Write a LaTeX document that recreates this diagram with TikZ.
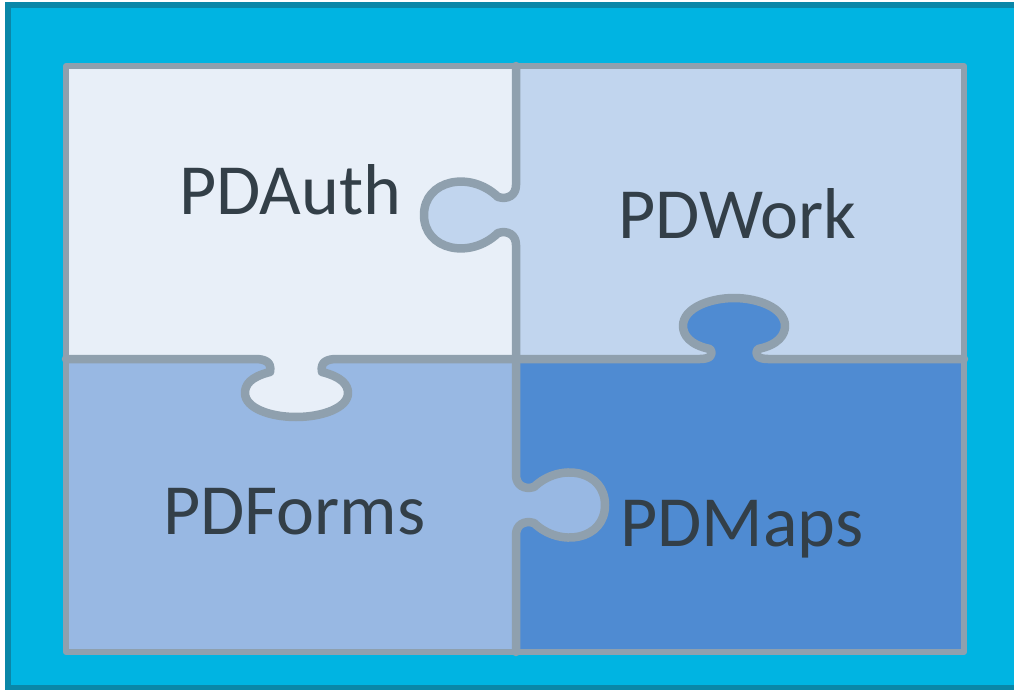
\documentclass[tikz,border=0pt]{standalone}
\usepackage{fontspec}
\setmainfont{Carlito}
\definecolor{bgcyan}{HTML}{00B4E2}
\definecolor{bgborder}{HTML}{0A87A8}
\definecolor{cAuth}{HTML}{E8EFF8}
\definecolor{cWork}{HTML}{C1D5EE}
\definecolor{cForms}{HTML}{98B8E3}
\definecolor{cMaps}{HTML}{4F8BD2}
\definecolor{edge}{HTML}{8FA0AE}
\definecolor{txt}{HTML}{333F48}
\tikzset{
  edgeline/.style={draw=edge, line width=8.5pt, line join=round, line cap=round},
  label/.style={anchor=base west, inner sep=0pt, text=txt, font=\fontsize{72}{86}\selectfont}
}
\begin{document}
\begin{tikzpicture}[x=1pt,y=-1pt]
\useasboundingbox (0,0) rectangle (1014,690);
% background
\fill[white] (0,0) rectangle (1014,690);
\draw[fill=bgcyan, draw=bgborder, line width=6pt] (8,5) rectangle (1030,688);
% piece rectangles
\fill[cAuth]  (66,66) rectangle (516,359);
\fill[cWork]  (516,66) rectangle (964,359);
\fill[cForms] (66,359) rectangle (516,652);
\fill[cMaps]  (516,359) rectangle (964,652);
% knob fills
\fill[cWork] (516,185) .. controls (516,195) and (508,200) .. (498,197)
  .. controls (470,170) and (424,180) .. (424,215)
  .. controls (424,250) and (470,260) .. (498,233)
  .. controls (508,230) and (516,235) .. (516,245) -- cycle;
\fill[cAuth] (255,359) .. controls (265,359) and (272,362) .. (270,372)
  .. controls (250,377) and (245,385) .. (245,393)
  .. controls (245,408) and (270,417) .. (296,417)
  .. controls (322,417) and (348,408) .. (348,393)
  .. controls (348,385) and (342,377) .. (322,372)
  .. controls (320,362) and (327,359) .. (337,359) -- cycle;
\fill[cMaps] (700,359) .. controls (710,359) and (714,355) .. (710,349)
  .. controls (690,345) and (683,335) .. (683,326)
  .. controls (683,308) and (710,298) .. (734,298)
  .. controls (758,298) and (785,308) .. (785,326)
  .. controls (785,335) and (778,345) .. (758,349)
  .. controls (754,355) and (758,359) .. (768,359) -- cycle;
\fill[cForms] (516,475) .. controls (516,485) and (524,490) .. (534,487)
  .. controls (560,462) and (605,470) .. (605,505)
  .. controls (605,540) and (560,548) .. (534,523)
  .. controls (524,520) and (516,525) .. (516,535) -- cycle;
% outline
\draw[edgeline, line width=6pt] (66,66) rectangle (964,652);
% horizontal divider with knobs
\draw[edgeline] (66,359) -- (255,359) .. controls (265,359) and (272,362) .. (270,372)
  .. controls (250,377) and (245,385) .. (245,393)
  .. controls (245,408) and (270,417) .. (296,417)
  .. controls (322,417) and (348,408) .. (348,393)
  .. controls (348,385) and (342,377) .. (322,372)
  .. controls (320,362) and (327,359) .. (337,359)
  -- (700,359) .. controls (710,359) and (714,355) .. (710,349)
  .. controls (690,345) and (683,335) .. (683,326)
  .. controls (683,308) and (710,298) .. (734,298)
  .. controls (758,298) and (785,308) .. (785,326)
  .. controls (785,335) and (778,345) .. (758,349)
  .. controls (754,355) and (758,359) .. (768,359) -- (964,359);
% vertical divider with knobs
\draw[edgeline] (516,66) -- (516,185) .. controls (516,195) and (508,200) .. (498,197)
  .. controls (470,170) and (424,180) .. (424,215)
  .. controls (424,250) and (470,260) .. (498,233)
  .. controls (508,230) and (516,235) .. (516,245)
  -- (516,475) .. controls (516,485) and (524,490) .. (534,487)
  .. controls (560,462) and (605,470) .. (605,505)
  .. controls (605,540) and (560,548) .. (534,523)
  .. controls (524,520) and (516,525) .. (516,535) -- (516,652);
% labels
\node[label] (auth) at (179,214) {PDAuth};
\node[label] (work) at (618,238) {PDWork};
\node[label] (forms) at (163,534) {PDForms};
\node[label] (maps) at (620,546) {PDMaps};
\end{tikzpicture}
\end{document}
